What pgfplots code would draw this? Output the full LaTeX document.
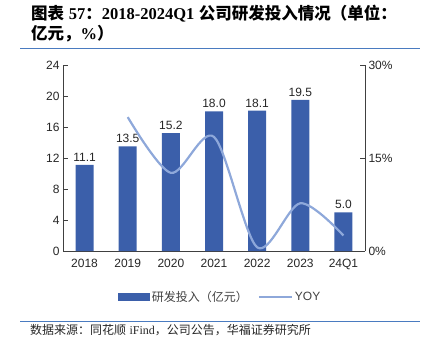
\documentclass[border=0pt]{standalone}
\usepackage{fontspec}
\setmainfont{Liberation Sans}
\newfontfamily\cjk{Noto Sans CJK SC}
\newfontfamily\tnr{Liberation Serif}
\usepackage{pgfplots}
\pgfplotsset{compat=1.18}
\definecolor{barblue}{HTML}{3B5FAA}
\definecolor{yoyblue}{HTML}{8EA8DA}
\definecolor{rulecol}{HTML}{4A7BC0}
\definecolor{axisgray}{HTML}{404040}
\definecolor{txt}{HTML}{262626}
\begin{document}
\begin{tikzpicture}
\path[use as bounding box] (0,0) rectangle (425pt,356pt);
\node[anchor=west, inner sep=0pt, font=\fontsize{16.5}{18}\selectfont\bfseries] at (31pt,342pt) {{\cjk 图表} {\tnr 57}{\cjk ：}{\tnr 2018-2024Q1} {\cjk 公司研发投入情况（单位：}};
\node[anchor=west, inner sep=0pt, font=\fontsize{16.5}{18}\selectfont\bfseries] at (31pt,322pt) {{\cjk 亿元，}{\tnr \%}{\cjk ）}};
\draw[rulecol, line width=0.8pt] (20pt,308pt) -- (420pt,308pt);
\draw[rulecol, line width=0.8pt] (20pt,35pt) -- (420pt,35pt);
\node[anchor=west, inner sep=0pt, font=\fontsize{12}{14}\selectfont, text=txt] at (30pt,26pt) {{\cjk 数据来源：同花顺} {\tnr iFind}{\cjk ，公司公告，华福证券研究所}};
\begin{axis}[
  at={(63pt,105pt)}, anchor=south west, scale only axis,
  width=302pt, height=186pt,
  xmin=-0.5, xmax=6.5, ymin=0, ymax=24,
  ytick={0,4,...,24},
  xtick={0,...,6},
  xticklabels={2018,2019,2020,2021,2022,2023,24Q1},
  major x tick style={draw=none},
  extra x ticks={0.5,1.5,2.5,3.5,4.5,5.5},
  extra x tick labels={},
  extra x tick style={tick style={draw=axisgray, line width=0.8pt}, major tick length=4pt},
  axis x line*=bottom, axis y line*=left,
  axis line style={-, axisgray, line width=0.8pt},
  tick align=inside,
  major tick length=5pt,
  ytick style={draw=axisgray, line width=0.8pt},
  /pgf/number format/assume math mode=true,
  tick label style={font=\fontsize{12}{14}\selectfont, text=txt},
  ybar, bar width=18pt,
  nodes near coords,
  nodes near coords style={font=\fontsize{12}{14}\selectfont, text=txt, /pgf/number format/.cd, fixed, fixed zerofill, precision=1, assume math mode=true},
  legend style={at={(0.52,-0.247)}, anchor=center, draw=none, fill=none,
    legend columns=2, font=\fontsize{12}{14}\selectfont, text=axisgray,
    /tikz/every even column/.append style={column sep=8pt}},
]
\addplot[fill=barblue, draw=none,
  legend image code/.code={\fill[barblue] (0pt,-4pt) rectangle (32pt,4pt);}]
  coordinates {(0,11.1) (1,13.5) (2,15.2) (3,18.0) (4,18.1) (5,19.5) (6,5.0)};
\addlegendentry{\cjk 研发投入（亿元）}
\addlegendimage{legend image code/.code={\draw[yoyblue, line width=2.2pt] (0pt,0pt) -- (33pt,0pt);}}
\addlegendentry{YOY}
\end{axis}
\begin{axis}[
  at={(63pt,105pt)}, anchor=south west, scale only axis,
  width=302pt, height=186pt,
  xmin=-0.5, xmax=6.5, ymin=0, ymax=30,
  ytick={0,15,30},
  /pgf/number format/assume math mode=true,
  yticklabel={\pgfmathprintnumber{\tick}\%},
  axis y line*=right, axis x line=none,
  axis line style={-, axisgray, line width=0.8pt},
  tick align=inside, major tick length=5pt,
  ytick style={draw=axisgray, line width=0.8pt},
  tick label style={font=\fontsize{12}{14}\selectfont, text=txt},
]
\addplot[yoyblue, line width=2.2pt, smooth, no marks]
  coordinates {(1,21.6) (2,12.6) (3,18.4) (4,0.6) (5,7.7) (6,2.5)};
\end{axis}
\end{tikzpicture}
\end{document}
